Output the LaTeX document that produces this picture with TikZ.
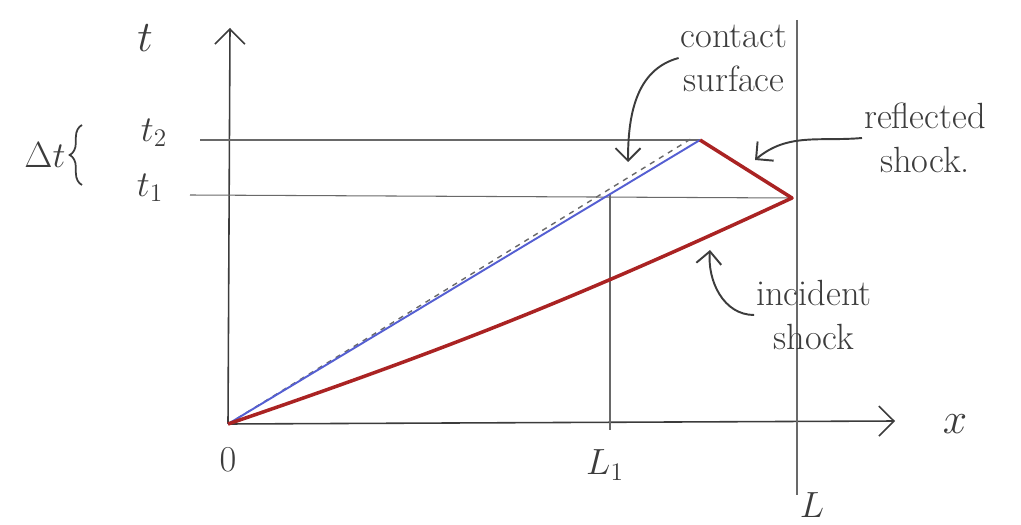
\documentclass[tikz,border=0pt]{standalone}
\usepackage{tikz}
\usepackage{xcolor}
\usetikzlibrary{positioning, calc, arrows.meta, decorations.pathreplacing}
\definecolor{pencil}{RGB}{60,60,60}
\definecolor{faint}{RGB}{105,105,105}
\definecolor{shockRed}{RGB}{170,35,35}
\definecolor{contactBlue}{RGB}{85,95,210}

\begin{document}
\begin{tikzpicture}[x=2cm, y=2cm,
    axis/.style={pencil, line width=0.9pt, -{Straight Barb[length=3mm, width=6mm]}},
    guide/.style={faint, line width=0.6pt},
    shock/.style={shockRed, line width=2pt, line join=round},
    lbl/.style={font=\huge, text=pencil, align=left},
    note/.style={font=\huge, text=pencil, align=center, inner sep=1pt},
    pointer/.style={pencil, line width=1.1pt, -{Straight Barb[length=2.5mm, width=5mm]}}]
    \useasboundingbox (-2.28,-1.00) rectangle (7.93,4.24);
    % key points of the x-t sketch
    \coordinate (O) at (0,0);
    \coordinate (tTop) at (0.02,3.96);
    \coordinate (xEnd) at (6.67,0.03);
    \coordinate (P1) at (3.82,2.29);
    \coordinate (P2) at (4.72,2.84);
    \coordinate (R) at (5.64,2.26);
    \coordinate (t2s) at (-0.28,2.84);
    \coordinate (t1s) at (-0.38,2.29);
    \coordinate (Ltop) at (5.69,4.04);
    \coordinate (Lbot) at (5.69,-0.71);
    \coordinate (L1bot) at (3.82,-0.06);
    \coordinate (brLo) at (-1.46,2.39);
    \coordinate (brHi) at (-1.46,2.99);
    % axes and guides
    \draw[axis] (O) -- (tTop);
    \draw[axis] (O) -- (xEnd);
    \draw[guide] (t2s) -- (P2);
    \draw[guide] (t1s) -- (R);
    \draw[guide] (P1) -- (L1bot);
    \draw[guide] (Ltop) -- (Lbot);
    % contact surface and shocks
    \draw[faint, dashed, line width=0.8pt] (O) -- ($(P2)+(-0.06,0.03)$);
    \draw[contactBlue, line width=1.1pt] (O) -- (P2);
    \draw[shock] (O) to[bend right=3] (R) -- (P2);
    % axis labels
    \node[font=\Huge, text=pencil] (tlab) at (-0.83,3.86) {$t$};
    \node[font=\Huge, text=pencil] (xlab) at (7.27,0.0) {$x$};
    \node[lbl] (t2lab) at (-0.74,2.91) {$t_2$};
    \node[lbl] (t1lab) at (-0.78,2.36) {$t_1$};
    \node[lbl] (dtlab) at (-1.83,2.69) {$\Delta t$};
    \draw[pencil, line width=1pt, decorate, decoration={brace, amplitude=7pt}] (brLo) -- (brHi);
    \node[lbl] (zero) at (0,-0.36) {$0$};
    \node[lbl] (L1lab) at (3.77,-0.41) {$L_1$};
    \node[lbl] (Llab) at (5.84,-0.81) {$L$};
    % annotations
    \node[note] (cs) at (5.06,3.66) {contact\\surface};
    \node[note] (rs) at (6.97,2.86) {reflected\\shock.};
    \node[note] (is) at (5.86,1.09) {incident\\shock};
    \coordinate (csTip) at (4.0,2.62);
    \coordinate (rsTip) at (5.27,2.64);
    \coordinate (isTip) at (4.82,1.74);
    \draw[pointer] (cs.west) to[out=195, in=90] (csTip);
    \draw[pointer] (rs.west) to[out=185, in=40] (rsTip);
    \draw[pointer] (is.west) to[out=180, in=-95] (isTip);
\end{tikzpicture}
\end{document}
